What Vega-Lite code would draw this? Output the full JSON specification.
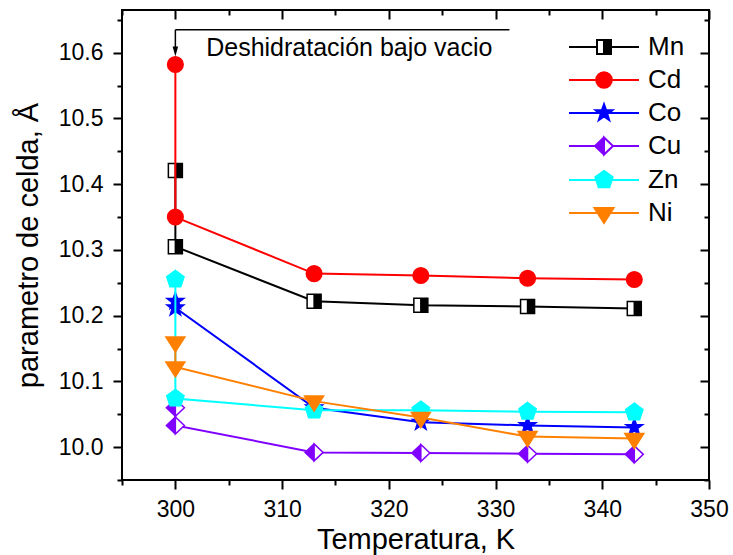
{
  "$schema": "https://vega.github.io/schema/vega-lite/v6.json",
  "width": 587,
  "height": 470,
  "autosize": {"type": "none"},
  "padding": {"left": 122, "top": 10, "right": 24, "bottom": 75},
  "background": "white",
  "config": {"font": "Liberation Sans", "view": {"stroke": "#000000", "strokeWidth": 2}},
  "datasets": {
    "pts": [
      {"metal": "Mn", "T": 300, "a": 10.421, "ord": 1},
      {"metal": "Mn", "T": 300, "a": 10.305, "ord": 2},
      {"metal": "Mn", "T": 313, "a": 10.222, "ord": 3},
      {"metal": "Mn", "T": 323, "a": 10.216, "ord": 4},
      {"metal": "Mn", "T": 333, "a": 10.214, "ord": 5},
      {"metal": "Mn", "T": 343, "a": 10.211, "ord": 6},
      {"metal": "Cd", "T": 300, "a": 10.582, "ord": 1},
      {"metal": "Cd", "T": 300, "a": 10.350, "ord": 2},
      {"metal": "Cd", "T": 313, "a": 10.264, "ord": 3},
      {"metal": "Cd", "T": 323, "a": 10.261, "ord": 4},
      {"metal": "Cd", "T": 333, "a": 10.257, "ord": 5},
      {"metal": "Cd", "T": 343, "a": 10.255, "ord": 6},
      {"metal": "Co", "T": 300, "a": 10.222, "ord": 1},
      {"metal": "Co", "T": 300, "a": 10.212, "ord": 2},
      {"metal": "Co", "T": 313, "a": 10.060, "ord": 3},
      {"metal": "Co", "T": 323, "a": 10.038, "ord": 4},
      {"metal": "Co", "T": 333, "a": 10.033, "ord": 5},
      {"metal": "Co", "T": 343, "a": 10.030, "ord": 6},
      {"metal": "Cu", "T": 300, "a": 10.060, "ord": 1},
      {"metal": "Cu", "T": 300, "a": 10.033, "ord": 2},
      {"metal": "Cu", "T": 313, "a": 9.992, "ord": 3},
      {"metal": "Cu", "T": 323, "a": 9.991, "ord": 4},
      {"metal": "Cu", "T": 333, "a": 9.990, "ord": 5},
      {"metal": "Cu", "T": 343, "a": 9.989, "ord": 6},
      {"metal": "Zn", "T": 300, "a": 10.255, "ord": 1},
      {"metal": "Zn", "T": 300, "a": 10.074, "ord": 2},
      {"metal": "Zn", "T": 313, "a": 10.056, "ord": 3},
      {"metal": "Zn", "T": 323, "a": 10.056, "ord": 4},
      {"metal": "Zn", "T": 333, "a": 10.054, "ord": 5},
      {"metal": "Zn", "T": 343, "a": 10.053, "ord": 6},
      {"metal": "Ni", "T": 300, "a": 10.160, "ord": 1},
      {"metal": "Ni", "T": 300, "a": 10.122, "ord": 2},
      {"metal": "Ni", "T": 313, "a": 10.070, "ord": 3},
      {"metal": "Ni", "T": 323, "a": 10.045, "ord": 4},
      {"metal": "Ni", "T": 333, "a": 10.016, "ord": 5},
      {"metal": "Ni", "T": 343, "a": 10.013, "ord": 6}
    ]
  },
  "data": {"name": "pts"},
  "encoding": {
    "x": {"field": "T", "type": "quantitative", "scale": {"domain": [295, 350], "nice": false, "zero": false}, "axis": null},
    "y": {"field": "a", "type": "quantitative", "scale": {"domain": [9.95, 10.665], "nice": false, "zero": false}, "axis": null}
  },
  "layer": [
    {
      "transform": [{"filter": "datum.metal === 'Mn'"}],
      "mark": {"type": "line", "color": "#000000", "strokeWidth": 2},
      "encoding": {
        "x": {"field": "T", "type": "quantitative",
          "scale": {"domain": [295, 350], "nice": false, "zero": false},
          "axis": {"orient": "bottom", "values": [295, 300, 305, 310, 315, 320, 325, 330, 335, 340, 345, 350],
            "title": "Temperatura, K", "titleFontSize": 29, "titleFontWeight": "normal", "titleColor": "#000000", "titlePadding": 4,
            "labelFontSize": 23, "labelColor": "#000000", "labelPadding": 9, "labelOverlap": false, "labelFlush": false, "labelBound": false,
            "labelExpr": "datum.value % 10 === 0 ? datum.label : ''",
            "tickColor": "#000000", "tickWidth": 2,
            "tickSize": {"condition": {"test": "datum.value % 10 === 0", "value": 9}, "value": 5},
            "domain": false, "grid": false}},
        "y": {"field": "a", "type": "quantitative",
          "scale": {"domain": [9.95, 10.665], "nice": false, "zero": false},
          "axis": {"orient": "left", "values": [9.95, 10.0, 10.05, 10.1, 10.15, 10.2, 10.25, 10.3, 10.35, 10.4, 10.45, 10.5, 10.55, 10.6, 10.65],
            "format": ".1f",
            "title": "parametro de celda, Å", "titleFontSize": 29, "titleFontWeight": "normal", "titleColor": "#000000", "titlePadding": 15,
            "labelFontSize": 23, "labelColor": "#000000", "labelPadding": 10, "labelOverlap": false, "labelBound": false,
            "labelExpr": "abs(datum.value*10 - round(datum.value*10)) < 0.001 ? datum.label : ''",
            "tickColor": "#000000", "tickWidth": 2,
            "tickSize": {"condition": {"test": "abs(datum.value*10 - round(datum.value*10)) < 0.001", "value": 9}, "value": 5},
            "domain": false, "grid": false}},
        "order": {"field": "ord", "type": "quantitative"}
      }
    },
    {
      "transform": [{"filter": "datum.metal === 'Mn'"}],
      "mark": {"type": "point", "filled": true, "color": "#FFFFFF", "opacity": 1, "size": 100, "strokeOpacity": 0,
        "shape": "M-1.4,-1.4L1.4,-1.4L1.4,1.4L-1.4,1.4Z"},
      "encoding": {
        "x": {"field": "T", "type": "quantitative",
          "scale": {"domain": [295, 350], "nice": false, "zero": false},
          "axis": {"orient": "top", "values": [295, 300, 305, 310, 315, 320, 325, 330, 335, 340, 345, 350],
            "title": null, "labels": false, "tickColor": "#000000", "tickWidth": 2,
            "tickSize": {"condition": {"test": "datum.value % 10 === 0", "value": -9}, "value": -5},
            "domain": false, "grid": false}},
        "y": {"field": "a", "type": "quantitative",
          "scale": {"domain": [9.95, 10.665], "nice": false, "zero": false},
          "axis": {"orient": "right", "values": [9.95, 10.0, 10.05, 10.1, 10.15, 10.2, 10.25, 10.3, 10.35, 10.4, 10.45, 10.5, 10.55, 10.6, 10.65],
            "title": null, "labels": false, "tickColor": "#000000", "tickWidth": 2,
            "tickSize": {"condition": {"test": "abs(datum.value*10 - round(datum.value*10)) < 0.001", "value": -9}, "value": -5},
            "domain": false, "grid": false}}
      }
    },
    {
      "transform": [{"filter": "datum.metal === 'Mn'"}],
      "mark": {"type": "point", "filled": true, "fill": "#000000", "stroke": "#000000", "strokeWidth": 1.5, "opacity": 1, "size": 100,
        "shape": "M-1.4,-1.4L1.4,-1.4L1.4,1.4L-1.4,1.4ZM-1.4,-1.4L-1.4,1.4L0,1.4L0,-1.4Z"}
    },
    {
      "transform": [{"filter": "datum.metal === 'Cd'"}],
      "mark": {"type": "line", "color": "#FF0000", "strokeWidth": 2},
      "encoding": {"order": {"field": "ord", "type": "quantitative"}}
    },
    {
      "transform": [{"filter": "datum.metal === 'Cd'"}],
      "mark": {"type": "point", "filled": true, "fill": "#FF0000", "stroke": "#FF0000", "strokeWidth": 1.5, "opacity": 1, "size": 100,
        "shape": "M-1.56,0A1.56,1.56,0,1,1,1.56,0A1.56,1.56,0,1,1,-1.56,0Z"}
    },
    {
      "transform": [{"filter": "datum.metal === 'Co'"}],
      "mark": {"type": "line", "color": "#0000FF", "strokeWidth": 2},
      "encoding": {"order": {"field": "ord", "type": "quantitative"}}
    },
    {
      "transform": [{"filter": "datum.metal === 'Co'"}],
      "mark": {"type": "point", "filled": true, "fill": "#0000FF", "stroke": "#0000FF", "strokeWidth": 1.5, "opacity": 1, "size": 100,
        "shape": "M0,-1.76L0.414,-0.57L1.674,-0.544L0.669,0.218L1.035,1.424L0,0.704L-1.035,1.424L-0.669,0.218L-1.674,-0.544L-0.414,-0.57Z"}
    },
    {
      "transform": [{"filter": "datum.metal === 'Cu'"}],
      "mark": {"type": "line", "color": "#8000FF", "strokeWidth": 2},
      "encoding": {"order": {"field": "ord", "type": "quantitative"}}
    },
    {
      "transform": [{"filter": "datum.metal === 'Cu'"}],
      "mark": {"type": "point", "filled": true, "color": "#FFFFFF", "opacity": 1, "size": 100, "strokeOpacity": 0,
        "shape": "M0,-1.7L1.8,0L0,1.7L-1.8,0Z"}
    },
    {
      "transform": [{"filter": "datum.metal === 'Cu'"}],
      "mark": {"type": "point", "filled": true, "fill": "#8000FF", "stroke": "#8000FF", "strokeWidth": 1.5, "opacity": 1, "size": 100,
        "shape": "M0,-1.7L1.8,0L0,1.7L-1.8,0ZM0,-1.7L0,1.7L1.8,0Z"}
    },
    {
      "transform": [{"filter": "datum.metal === 'Zn'"}],
      "mark": {"type": "line", "color": "#00FFFF", "strokeWidth": 2},
      "encoding": {"order": {"field": "ord", "type": "quantitative"}}
    },
    {
      "transform": [{"filter": "datum.metal === 'Zn'"}],
      "mark": {"type": "point", "filled": true, "fill": "#00FFFF", "stroke": "#00FFFF", "strokeWidth": 1.5, "opacity": 1, "size": 100,
        "shape": "M0,-1.82L1.731,-0.562L1.07,1.472L-1.07,1.472L-1.731,-0.562Z"}
    },
    {
      "transform": [{"filter": "datum.metal === 'Ni'"}],
      "mark": {"type": "line", "color": "#FF8000", "strokeWidth": 2},
      "encoding": {"order": {"field": "ord", "type": "quantitative"}}
    },
    {
      "transform": [{"filter": "datum.metal === 'Ni'"}],
      "mark": {"type": "point", "filled": true, "fill": "#FF8000", "stroke": "#FF8000", "strokeWidth": 1.5, "opacity": 1, "size": 100,
        "shape": "M-1.9,-1L1.9,-1L0,2Z"}
    },
    {
      "transform": [{"filter": "false"}],
      "mark": {"type": "point", "filled": true, "opacity": 1, "size": 100, "strokeWidth": 2},
      "encoding": {
        "color": {"field": "metal", "type": "nominal",
          "scale": {"domain": ["Mn", "Cd", "Co", "Cu", "Zn", "Ni"], "range": ["#000000", "#FF0000", "#0000FF", "#8000FF", "#00FFFF", "#FF8000"]},
          "legend": {"title": null, "orient": "top-right", "offset": 24, "padding": 0, "labelFontSize": 26, "labelColor": "#000000", "labelFont": "Liberation Sans",
            "symbolSize": 100, "symbolStrokeWidth": 2, "labelOffset": 31, "rowPadding": 7, "symbolOpacity": 1}},
        "stroke": {"field": "metal", "type": "nominal",
          "scale": {"domain": ["Mn", "Cd", "Co", "Cu", "Zn", "Ni"], "range": ["#000000", "#FF0000", "#0000FF", "#8000FF", "#00FFFF", "#FF8000"]},
          "legend": {"title": null, "orient": "top-right", "offset": 24, "padding": 0, "labelFontSize": 26, "labelColor": "#000000", "labelFont": "Liberation Sans",
            "symbolSize": 100, "symbolStrokeWidth": 2, "labelOffset": 31, "rowPadding": 7, "symbolOpacity": 1}},
        "shape": {"field": "metal", "type": "nominal",
          "scale": {"domain": ["Mn", "Cd", "Co", "Cu", "Zn", "Ni"],
            "range": [
              "M-7,0L-1.4,0M1.4,0L7,0M-1.4,-1.4L1.4,-1.4L1.4,1.4L-1.4,1.4ZM-1.4,-1.4L-1.4,1.4L0,1.4L0,-1.4Z",
              "M-7,0L7,0M-1.56,0A1.56,1.56,0,1,1,1.56,0A1.56,1.56,0,1,1,-1.56,0Z",
              "M-7,0L7,0M0,-1.76L0.414,-0.57L1.674,-0.544L0.669,0.218L1.035,1.424L0,0.704L-1.035,1.424L-0.669,0.218L-1.674,-0.544L-0.414,-0.57Z",
              "M-7,0L-1.8,0M1.8,0L7,0M0,-1.7L1.8,0L0,1.7L-1.8,0ZM0,-1.7L0,1.7L1.8,0Z",
              "M-7,0L7,0M0,-1.82L1.731,-0.562L1.07,1.472L-1.07,1.472L-1.731,-0.562Z",
              "M-7,0L7,0M-1.9,-1L1.9,-1L0,2Z"
            ]},
          "legend": {"title": null, "orient": "top-right", "offset": 24, "padding": 0, "labelFontSize": 26, "labelColor": "#000000", "labelFont": "Liberation Sans",
            "symbolSize": 100, "symbolStrokeWidth": 2, "labelOffset": 31, "rowPadding": 7, "symbolOpacity": 1}}
      }
    },
    {
      "data": {"values": [{"T": 300, "T2": 331.3, "a": 10.635}]},
      "mark": {"type": "rule", "color": "#000000", "strokeWidth": 1.5},
      "encoding": {"x2": {"field": "T2"}}
    },
    {
      "data": {"values": [{"T": 300, "a": 10.635, "a2": 10.604}]},
      "mark": {"type": "rule", "color": "#000000", "strokeWidth": 1.5},
      "encoding": {"y2": {"field": "a2"}}
    },
    {
      "data": {"values": [{"T": 300, "a": 10.602}]},
      "mark": {"type": "point", "filled": true, "color": "#000000", "opacity": 1, "size": 100, "shape": "M-0.55,-1L0.55,-1L0,1Z"}
    },
    {
      "data": {"values": [{"T": 316.3, "a": 10.595, "label": "Deshidratación bajo vacio"}]},
      "mark": {"type": "text", "fontSize": 25, "color": "#000000", "align": "center", "baseline": "alphabetic", "font": "Liberation Sans"},
      "encoding": {"text": {"field": "label"}}
    }
  ],
  "resolve": {"axis": {"x": "independent", "y": "independent"}}
}
